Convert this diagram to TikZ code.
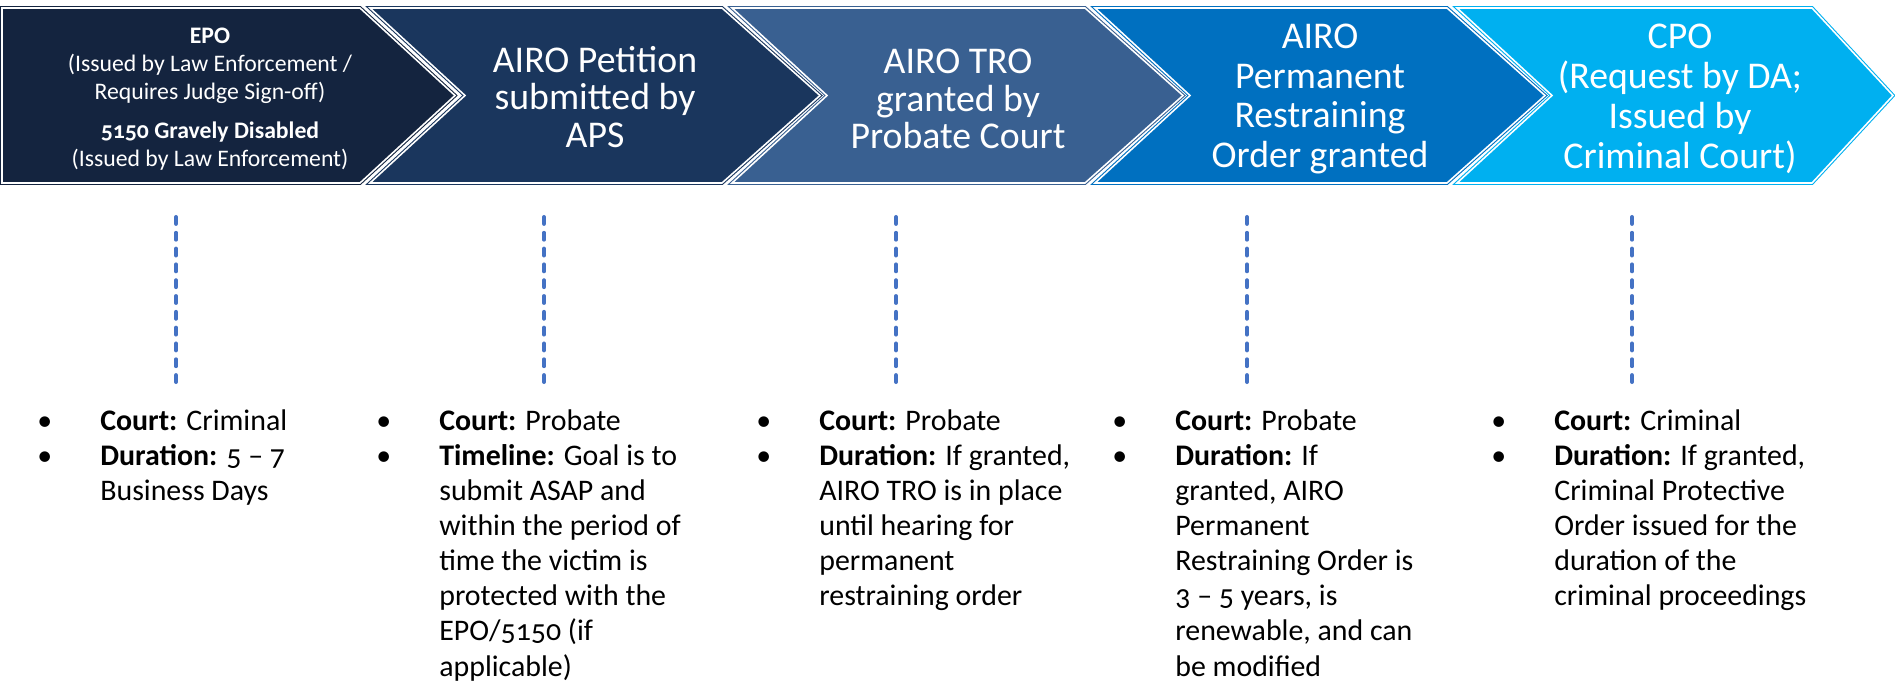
\documentclass[tikz,border=0pt]{standalone}
\usepackage{fontspec}
\setmainfont[Numbers=OldStyle]{Carlito}
\usepackage{tikz}
\usetikzlibrary{positioning}
\usepackage{xcolor}
\definecolor{stepnavy}{RGB}{20, 36, 63}
\definecolor{stepdark}{RGB}{26, 54, 93}
\definecolor{stepmid}{RGB}{57, 96, 145}
\definecolor{stepblue}{RGB}{0, 112, 192}
\definecolor{stepsky}{RGB}{0, 176, 240}
\definecolor{guideblue}{RGB}{68, 114, 196}

\newcommand{\bl}{\makebox[1.26cm][l]{\textbullet}}
\newcommand{\ind}{\hspace*{1.26cm}}

\begin{document}
\begin{tikzpicture}[x=0.02cm, y=-0.02cm,
    chev/.style={draw=#1, fill=#1, double=white, double distance=0.9pt, line width=0.6pt, line join=miter},
    chevtext/.style={text=white, align=center, inner sep=0pt, font=\fontsize{21.5}{22.7}\selectfont},
    guide/.style={guideblue, line width=2.3pt, line cap=round, dash pattern=on 3.9pt off 5.1pt},
    info/.style={anchor=north west, align=left, inner sep=0pt, font=\fontsize{17}{20}\selectfont}]
    \useasboundingbox (0,0) rectangle (1895,686);
    % Process chevrons
    \draw[chev=stepnavy] (2,8) -- (360,8) -- (455,95.5) -- (360,183) -- (2,183) -- cycle;
    \foreach \l/\r/\t/\c in {370/722/820/stepdark, 732/1085/1183/stepmid, 1095/1447/1545/stepblue, 1457/1812/1893/stepsky}{
      \draw[chev=\c] (\l,8) -- (\r,8) -- (\t,95.5) -- (\r,183) -- (\l,183) -- ++(95,-87.5) -- cycle;
    }
    % Chevron labels
    \node[chevtext, font=\fontsize{13.5}{15.9}\selectfont] (s1) at (210,99)
      {\textbf{EPO}\\(Issued by Law Enforcement /\\Requires Judge Sign-off)\\[6.5pt]\textbf{5150 Gravely Disabled}\\(Issued by Law Enforcement)};
    \node[chevtext, font=\fontsize{21.5}{21.3}\selectfont] (s2) at (595,97) {AIRO Petition\\submitted by\\APS};
    \node[chevtext, font=\fontsize{21.5}{21.3}\selectfont] (s3) at (958,99) {AIRO TRO\\granted by\\Probate Court};
    \node[chevtext] (s4) at (1320,99) {AIRO\\Permanent\\Restraining\\Order granted};
    \node[chevtext] (s5) at (1680,99) {CPO\\(Request by DA;\\Issued by\\Criminal Court)};
    % Dashed guides
    \foreach \x/\n in {176/1, 544/2, 896/3, 1247/4, 1632/5}{
      \coordinate (top\n) at (\x,217);
      \coordinate (bot\n) at (\x,385);
      \draw[guide] (top\n) -- (bot\n);
    }
    % Details per step
    \node[info] (d1) at (37,409)
      {\bl\textbf{Court:} Criminal\\\bl\textbf{Duration:} 5 -- 7\\\ind Business Days};
    \node[info] (d2) at (376,409)
      {\bl\textbf{Court:} Probate\\\bl\textbf{Timeline:} Goal is to\\\ind submit ASAP and\\\ind within the period of\\\ind time the victim is\\\ind protected with the\\\ind EPO/5150 (if\\\ind applicable)};
    \node[info] (d3) at (756,409)
      {\bl\textbf{Court:} Probate\\\bl\textbf{Duration:} If granted,\\\ind AIRO TRO is in place\\\ind until hearing for\\\ind permanent\\\ind restraining order};
    \node[info] (d4) at (1112,409)
      {\bl\textbf{Court:} Probate\\\bl\textbf{Duration:} If\\\ind granted, AIRO\\\ind Permanent\\\ind Restraining Order is\\\ind 3 -- 5 years, is\\\ind renewable, and can\\\ind be modified};
    \node[info] (d5) at (1491,409)
      {\bl\textbf{Court:} Criminal\\\bl\textbf{Duration:} If granted,\\\ind Criminal Protective\\\ind Order issued for the\\\ind duration of the\\\ind criminal proceedings};
\end{tikzpicture}
\end{document}
